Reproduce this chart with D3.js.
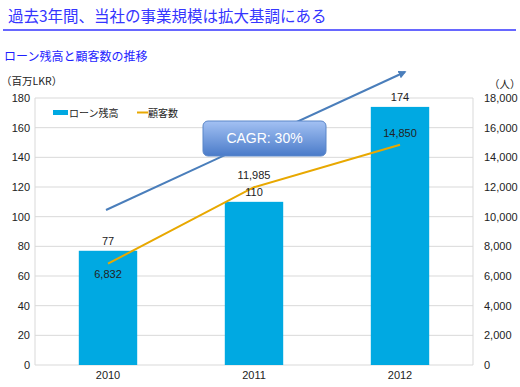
<!DOCTYPE html>
<html>
<head>
<meta charset="utf-8">
<script src="https://cdn.jsdelivr.net/npm/d3@7"></script>
<style>
  body { margin: 0; background: #fff; }
  svg text { font-family: "Liberation Sans", Arial, "Noto Sans CJK JP", sans-serif; }
  .jp { font-family: "Noto Sans CJK JP", "Liberation Sans", sans-serif; }
</style>
</head>
<body>
<div id="chart"></div>
<script>
// chart data
var years = ["2010", "2011", "2012"];
var loans = [77, 110, 174];            // ローン残高 (百万LKR)
var customers = [6832, 11985, 14850];  // 顧客数 (人)
var leftTicks = [0, 20, 40, 60, 80, 100, 120, 140, 160, 180];
var rightTicks = [0, 2000, 4000, 6000, 8000, 10000, 12000, 14000, 16000, 18000];

var width = 520, height = 387;
var margin = { top: 98, right: 47, bottom: 22, left: 35 };
var plotW = width - margin.left - margin.right;
var plotH = height - margin.top - margin.bottom;

var svg = d3.select("#chart").append("svg")
  .attr("width", width)
  .attr("height", height);

// title + rule
svg.append("text").attr("class", "jp")
  .attr("x", 8).attr("y", 22)
  .attr("font-size", 15.5).attr("fill", "#3535ff")
  .text("過去3年間、当社の事業規模は拡大基調にある");
svg.append("line")
  .attr("x1", 3).attr("x2", 516).attr("y1", 30).attr("y2", 30)
  .attr("stroke", "#3535ff").attr("stroke-width", 1.5);
svg.append("text").attr("class", "jp")
  .attr("x", 4).attr("y", 61)
  .attr("font-size", 12).attr("fill", "#1f1fff")
  .text("ローン残高と顧客数の推移");

// gradient for the CAGR box
var defs = svg.append("defs");
var grad = defs.append("linearGradient").attr("id", "cagrGrad")
  .attr("x1", 0).attr("y1", 0).attr("x2", 0).attr("y2", 1);
grad.append("stop").attr("offset", "0%").attr("stop-color", "#a3c1f3");
grad.append("stop").attr("offset", "100%").attr("stop-color", "#4a7bc9");
defs.append("marker").attr("id", "arrowHead")
  .attr("viewBox", "0 0 10 10").attr("refX", 8).attr("refY", 5)
  .attr("markerWidth", 4).attr("markerHeight", 4).attr("orient", "auto")
  .append("path").attr("d", "M0,0 L10,5 L0,10 z").attr("fill", "#4a7ebb");

var g = svg.append("g").attr("transform", "translate(" + margin.left + "," + margin.top + ")");

// scales
var x = d3.scaleBand().domain(years).range([0, plotW]).paddingInner(0.6).paddingOuter(0.3);
var yL = d3.scaleLinear().domain([0, 180]).range([plotH, 0]);
var yR = d3.scaleLinear().domain([0, 18000]).range([plotH, 0]);

// grid lines
g.selectAll(".grid").data(leftTicks).enter().append("line")
  .attr("x1", 0).attr("x2", plotW)
  .attr("y1", function (d) { return yL(d); })
  .attr("y2", function (d) { return yL(d); })
  .attr("stroke", "#d9d9d9").attr("stroke-width", 1);
g.append("line").attr("x1", 0).attr("x2", 0).attr("y1", 0).attr("y2", plotH)
  .attr("stroke", "#d9d9d9");
g.append("line").attr("x1", plotW).attr("x2", plotW).attr("y1", 0).attr("y2", plotH)
  .attr("stroke", "#d9d9d9");

// axes
var leftAxis = g.append("g").call(d3.axisLeft(yL).tickValues(leftTicks).tickSize(0).tickPadding(5));
var rightAxis = g.append("g").attr("transform", "translate(" + plotW + ",0)")
  .call(d3.axisRight(yR).tickValues(rightTicks).tickSize(0).tickPadding(11).tickFormat(d3.format(",")));
var bottomAxis = g.append("g").attr("transform", "translate(0," + plotH + ")")
  .call(d3.axisBottom(x).tickSize(0).tickPadding(6));
[leftAxis, rightAxis, bottomAxis].forEach(function (a) {
  a.select(".domain").remove();
  a.selectAll("text").attr("font-size", 11).attr("fill", "#222")
    .attr("font-family", "Liberation Sans, Arial, sans-serif");
});

// axis units
svg.append("text").attr("class", "jp").attr("x", 1).attr("y", 85)
  .attr("font-size", 10.5).attr("fill", "#222").text("（百万LKR）");
svg.append("text").attr("class", "jp").attr("x", 489).attr("y", 88)
  .attr("font-size", 10.5).attr("fill", "#222").text("（人）");

// bars
g.selectAll(".bar").data(years).enter().append("rect")
  .attr("x", function (d) { return x(d); })
  .attr("y", function (d, i) { return yL(loans[i]); })
  .attr("width", x.bandwidth())
  .attr("height", function (d, i) { return plotH - yL(loans[i]); })
  .attr("fill", "#00a9e2");

// blue growth arrow (drawn behind labels)
g.append("line")
  .attr("x1", x("2010") + x.bandwidth() / 2 - 2).attr("y1", 210 - margin.top)
  .attr("x2", x("2012") + x.bandwidth() / 2 + 5).attr("y2", 72 - margin.top)
  .attr("stroke", "#4a7ebb").attr("stroke-width", 2)
  .attr("marker-end", "url(#arrowHead)");

// customer line
var line = d3.line()
  .x(function (d, i) { return x(years[i]) + x.bandwidth() / 2; })
  .y(function (d) { return yR(d); });
g.append("path").datum(customers)
  .attr("d", line)
  .attr("fill", "none").attr("stroke", "#e8a800").attr("stroke-width", 2);

// bar labels
g.selectAll(".barLabel").data(loans).enter().append("text")
  .attr("x", function (d, i) { return x(years[i]) + x.bandwidth() / 2; })
  .attr("y", function (d) { return yL(d) - 6; })
  .attr("text-anchor", "middle").attr("font-size", 11).attr("fill", "#222")
  .text(function (d) { return d; });

// line labels
var lineLabelDy = [14, -8, -8];
g.selectAll(".lineLabel").data(customers).enter().append("text")
  .attr("x", function (d, i) { return x(years[i]) + x.bandwidth() / 2; })
  .attr("y", function (d, i) { return yR(d) + lineLabelDy[i]; })
  .attr("text-anchor", "middle").attr("font-size", 11).attr("fill", "#222")
  .text(function (d) { return d3.format(",")(d); });

// CAGR box
svg.append("rect")
  .attr("x", 203).attr("y", 121).attr("width", 123).attr("height", 35)
  .attr("rx", 5).attr("fill", "url(#cagrGrad)")
  .attr("stroke", "#5a86c8").attr("stroke-width", 1);
svg.append("text").attr("x", 264.5).attr("y", 143)
  .attr("text-anchor", "middle").attr("font-size", 14).attr("fill", "#fff")
  .text("CAGR: 30%");

// legend
svg.append("rect").attr("x", 53).attr("y", 110).attr("width", 15).attr("height", 5).attr("fill", "#00a9e2");
svg.append("text").attr("class", "jp").attr("x", 69).attr("y", 116.5)
  .attr("font-size", 10).attr("fill", "#222").text("ローン残高");
svg.append("line").attr("x1", 137).attr("x2", 148).attr("y1", 112.5).attr("y2", 112.5)
  .attr("stroke", "#e8a800").attr("stroke-width", 2);
svg.append("text").attr("class", "jp").attr("x", 148).attr("y", 116.5)
  .attr("font-size", 10).attr("fill", "#222").text("顧客数");
</script>
</body>
</html>
